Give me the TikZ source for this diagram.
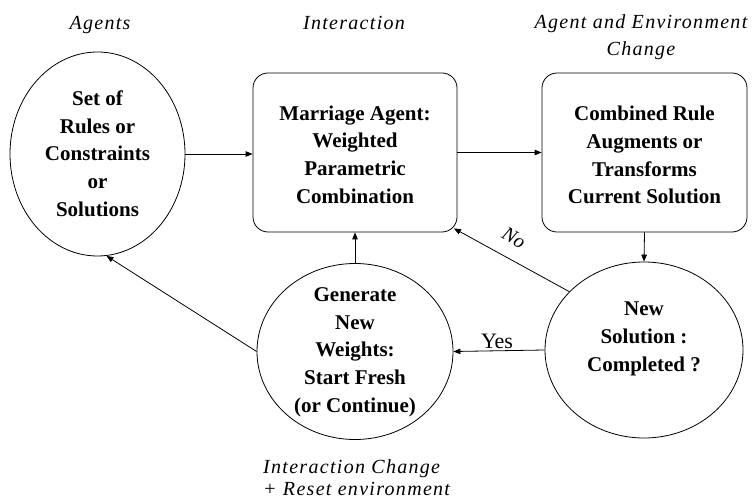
\documentclass[tikz,border=0pt]{standalone}
\usepackage{fontspec}
\setmainfont{Liberation Serif}
\newfontfamily\headfont[LetterSpace=6.5]{Liberation Serif}
\usetikzlibrary{shapes.geometric,arrows.meta,calc}

\tikzset{
  bubble/.style={draw, ellipse, line width=0.8pt, inner sep=0pt},
  panel/.style={draw, rounded corners=15pt, line width=0.8pt, inner sep=0pt,
                minimum width=204pt, minimum height=159pt},
  boldtxt/.style={font=\bfseries\fontsize{21}{27.7}\selectfont, align=center, inner sep=0pt},
  heading/.style={font=\headfont\itshape\fontsize{20}{26}\selectfont, inner sep=0pt, anchor=base},
  arr/.style={-{Triangle[length=7pt,width=5.5pt]}, line width=0.8pt},
  edgetxt/.style={font=\fontsize{22}{26}\selectfont, inner sep=0pt}
}

\begin{document}
\begin{tikzpicture}[x=1pt,y=-1pt]
\useasboundingbox (0,0) rectangle (754,502);

% column headings
\node[heading] (hAgents) at (100,30) {Agents};
\node[heading] (hInter) at (354,30) {Interaction};
\node[heading] (hChangeA) at (641,29) {Agent and Environment};
\node[heading] (hChangeB) at (641,56) {Change};
\node[heading, anchor=base west] (hResetA) at (263,473) {Interaction Change};
\node[heading, anchor=base west] (hResetB) at (263,495) {+ Reset environment};

% shapes
\node[bubble, minimum width=175pt, minimum height=204pt] (e1) at (97.5,154) {};
\node[panel] (b1) at (355,152.5) {};
\node[panel, minimum width=205pt] (b2) at (644.5,152.5) {};
\node[bubble, minimum width=196pt, minimum height=176pt] (e2) at (355,351.5) {};
\node[bubble, minimum width=198pt, minimum height=176pt] (e3) at (644,350) {};

% texts inside the shapes
\node[boldtxt] (e1t) at (97.5,153.5) {Set of\\Rules or\\Constraints\\or\\Solutions};
\node[boldtxt] (b1t) at (355,154.5) {Marriage Agent:\\Weighted\\Parametric\\Combination};
\node[boldtxt] (b2t) at (644.5,155) {Combined Rule\\Augments or\\Transforms\\Current Solution};
\node[boldtxt] (e2t) at (355,352) {Generate\\New\\Weights:\\Start Fresh\\(or Continue)};
\node[boldtxt] (e3t) at (644,339) {New\\Solution :\\Completed ?};

% connectors
\draw[arr] (e1.east) -- (e1.east -| b1.west);
\draw[arr] (b1.east) -- (b2.west);
\draw[arr] (b2.south) -- (e3.north);
\draw[arr] (e3.west) -- (e2.east);
\draw[arr] (e2.north) -- (b1.south);
\draw[arr] (e2.west) -- (e1.-85);
\coordinate (b1corner) at ($(b1.south east)+(-3.5,-4)$);
\draw[arr] (e3.142) -- (b1corner);

% connector labels
\node[edgetxt, anchor=base] (yes) at (497,348) {Yes};
\node[edgetxt, font=\itshape\fontsize{20}{24}\selectfont, rotate=-30] (no) at (514,238) {No};
\end{tikzpicture}
\end{document}
